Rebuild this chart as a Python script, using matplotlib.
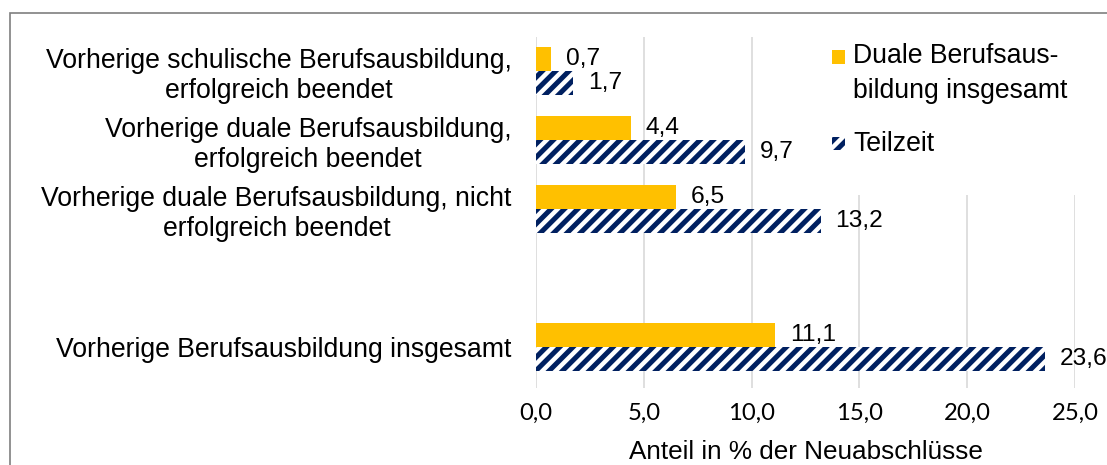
import matplotlib
matplotlib.use("Agg")
import matplotlib.pyplot as plt
from matplotlib.patches import Rectangle

plt.rcParams["font.family"] = ["Liberation Sans", "DejaVu Sans"]
plt.rcParams["hatch.linewidth"] = 4.5

# empty slot before the total row, as in the original chart
CATEGORIES = [
    "Vorherige schulische Berufsausbildung,\nerfolgreich beendet",
    "Vorherige duale Berufsausbildung,\nerfolgreich beendet",
    "Vorherige duale Berufsausbildung, nicht\nerfolgreich beendet",
    "",
    "Vorherige Berufsausbildung insgesamt",
]
DUALE = [0.7, 4.4, 6.5, None, 11.1]
TEILZEIT = [1.7, 9.7, 13.2, None, 23.6]
SERIES = ["Duale Berufsaus-\nbildung insgesamt", "Teilzeit"]
XTICKS = [0, 5, 10, 15, 20, 25]

YELLOW = "#FFC000"
NAVY = "#002060"
DPI = 80
W, H = 1107, 465


def fx(px):
    return px / W


def fy(py):
    return 1 - py / H


def de(v):
    return f"{v:.1f}".replace(".", ",")


fig = plt.figure(figsize=(W / DPI, H / DPI), dpi=DPI)
ax = fig.add_axes([fx(536), fy(388), fx(1075) - fx(536), fy(37) - fy(388)])

h = 0.35
for y, (d, t) in enumerate(zip(DUALE, TEILZEIT)):
    if d is None:
        continue
    ax.barh(y - h / 2, d, height=h, color=YELLOW, linewidth=0)
    ax.barh(y + h / 2, t, height=h, color="white", edgecolor=NAVY,
            hatch="//", linewidth=0)
    ax.annotate(de(d), (d, y - h / 2), xytext=(15, 0),
                textcoords="offset pixels", va="center", ha="left",
                fontsize=22)
    ax.annotate(de(t), (t, y + h / 2), xytext=(15, 0),
                textcoords="offset pixels", va="center", ha="left",
                fontsize=22)

ax.set_ylim(len(CATEGORIES) - 0.4, -0.5)
ax.set_xlim(0, 25)
ax.set_xticks(XTICKS)
ax.set_xticklabels([de(v) for v in XTICKS], fontsize=21.5,
                   family=["Lato", "DejaVu Sans"])
ax.set_yticks(range(len(CATEGORIES)))
ax.set_yticklabels(CATEGORIES, fontsize=24, ha="right",
                   multialignment="center", linespacing=1.2)
ax.tick_params(axis="y", length=0, pad=22)
ax.tick_params(axis="x", length=0, pad=13)
ax.set_xlabel("Anteil in % der Neuabschlüsse", fontsize=23.5, labelpad=15)
ax.grid(axis="x", color="#D9D9D9", linewidth=1.5)
ax.set_axisbelow(True)
for s in ax.spines.values():
    s.set_visible(False)

# legend drawn by hand (marker aligned with first text line)
fig.patches.append(Rectangle((fx(822), fy(195)), fx(1107) - fx(822),
                             fy(30) - fy(195), transform=fig.transFigure,
                             facecolor="white", edgecolor="none", zorder=2))
fig.patches.append(Rectangle((fx(832), fy(64)), fx(845) - fx(832),
                             fy(50) - fy(64), transform=fig.transFigure,
                             facecolor=YELLOW, edgecolor="none", zorder=3))
fig.patches.append(Rectangle((fx(832), fy(150)), fx(845) - fx(832),
                             fy(137) - fy(150), transform=fig.transFigure,
                             facecolor="white", edgecolor=NAVY, hatch="//",
                             linewidth=0, zorder=3))
fig.text(fx(853), fy(43), SERIES[0], fontsize=24, va="top", ha="left",
         linespacing=1.45, zorder=4)
fig.text(fx(853), fy(144), SERIES[1], fontsize=24, va="center",
         ha="left", zorder=4)

# border
fig.patches.append(Rectangle((fx(10), -0.1), 1.2, fy(13) + 0.1,
                             transform=fig.transFigure, fill=False,
                             edgecolor="#7F7F7F", linewidth=1.5))

fig.savefig("out.png", dpi=DPI)
